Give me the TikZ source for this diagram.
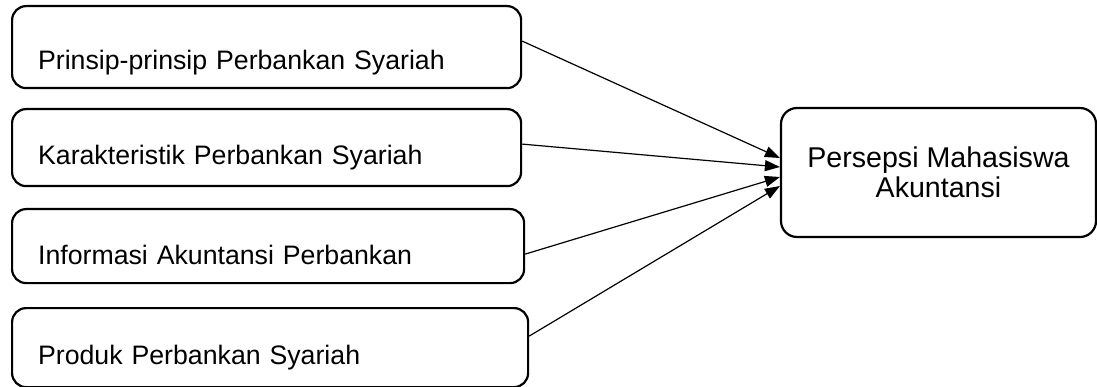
\documentclass[tikz,border=0pt]{standalone}
\usepackage{fontspec}
\setmainfont{Liberation Sans}
\usetikzlibrary{arrows.meta}

\begin{document}
\begin{tikzpicture}[x=1pt,y=-1pt,
    factor/.style={draw,rounded corners=14pt,line width=2.2pt,anchor=north west,
      inner xsep=26pt,inner ysep=0pt,align=left,
      font=\fontsize{26.7}{30}\selectfont},
    result/.style={draw,rounded corners=16pt,line width=2.2pt,align=center,
      minimum width=315pt,minimum height=129pt,inner sep=0pt,
      font=\fontsize{28.6}{30}\selectfont},
    link/.style={line width=1.2pt,-{Triangle[length=15pt,width=11pt]}}]
  % Canvas (pixel grid of the original)
  \useasboundingbox (0,0) rectangle (1097,387);

  % Left boxes (the four factors)
  \node[factor,text width=457pt,text height=63pt,text depth=19pt] (prinsip) at (11,5) {Prinsip-prinsip Perbankan Syariah};
  \node[factor,text width=457pt,text height=55pt,text depth=22pt] (karakter) at (11,108) {Karakteristik Perbankan Syariah};
  \node[factor,text width=460pt,text height=55pt,text depth=19pt] (informasi) at (11,208) {Informasi Akuntansi Perbankan};
  \node[factor,text width=464pt,text height=56pt,text depth=23pt] (produk) at (11,307) {Produk Perbankan Syariah};

  % Right box (the outcome)
  \node[result] (persepsi) at (938.5,172.5) {Persepsi Mahasiswa\\Akuntansi};

  % Arrows into the outcome
  \draw[link] ([yshift=6pt]prinsip.east) -- ([yshift=14.5pt]persepsi.west);
  \draw[link] ([yshift=3.5pt]karakter.east) -- ([yshift=5.5pt]persepsi.west);
  \draw[link] ([yshift=-8pt]informasi.east) -- ([yshift=-4.5pt]persepsi.west);
  \draw[link] ([yshift=11.5pt]produk.east) -- ([yshift=-13.5pt]persepsi.west);
\end{tikzpicture}
\end{document}
